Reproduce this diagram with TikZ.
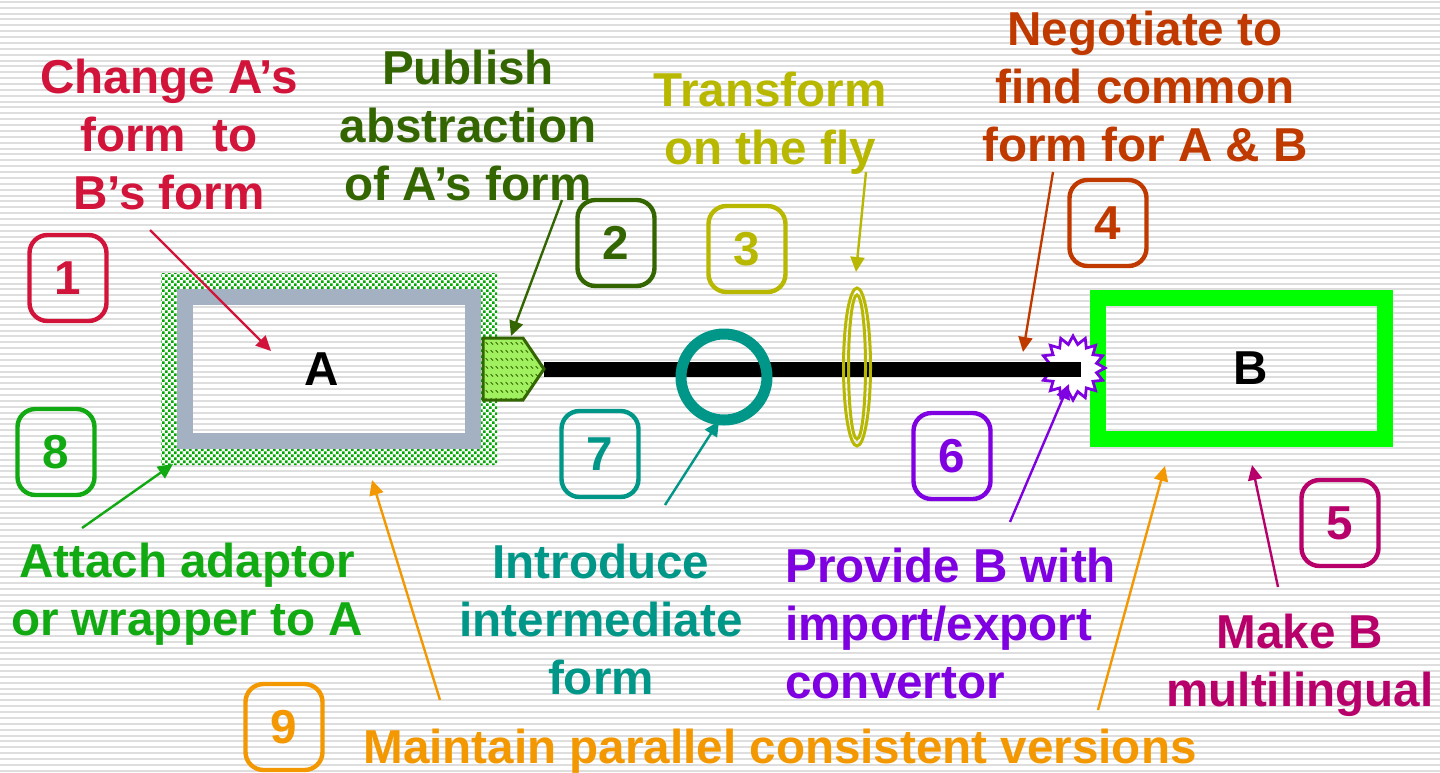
\documentclass[tikz,border=0pt]{standalone}
\usepackage{fontspec}
\setmainfont{Liberation Sans}
\usetikzlibrary{arrows.meta,shapes.geometric,patterns,calc}
\definecolor{cRed}{HTML}{D2143A}
\definecolor{cDkGreen}{HTML}{336600}
\definecolor{cOlive}{HTML}{B8B800}
\definecolor{cBrown}{HTML}{C03A00}
\definecolor{cMag}{HTML}{B8006B}
\definecolor{cPurple}{HTML}{7F00E0}
\definecolor{cTeal}{HTML}{009688}
\definecolor{cGreen}{HTML}{12AA12}
\definecolor{cOrange}{HTML}{F39800}
\definecolor{cGray}{HTML}{A3B1C2}
\definecolor{cLime}{HTML}{00FF00}
\definecolor{cAdapt}{HTML}{A0F060}
\definecolor{cStripe}{HTML}{DEDEDE}
\definecolor{cDots}{HTML}{00A800}
\pgfdeclarepatternformonly{gdots}{\pgfqpoint{-0.1pt}{-0.1pt}}{\pgfqpoint{3.1pt}{3.1pt}}{\pgfqpoint{3pt}{3pt}}{%
  \pgfpathrectangle{\pgfqpoint{0pt}{0pt}}{\pgfqpoint{1.3pt}{1.3pt}}%
  \pgfpathrectangle{\pgfqpoint{1.5pt}{1.5pt}}{\pgfqpoint{1.3pt}{1.3pt}}%
  \pgfusepath{fill}}
\pgfdeclarepatternformonly{adash}{\pgfqpoint{-0.5pt}{-0.5pt}}{\pgfqpoint{3pt}{4.5pt}}{\pgfqpoint{2.5pt}{4pt}}{%
  \pgfsetlinewidth{0.45pt}%
  \pgfpathmoveto{\pgfqpoint{0.3pt}{2.9pt}}\pgfpathlineto{\pgfqpoint{1.5pt}{1.7pt}}%
  \pgfusepath{stroke}}
\newcommand\lblfont{\fontsize{23.8}{29}\selectfont\bfseries}
\newcommand\mlc[1]{\begin{tabular}[t]{@{}c@{}}#1\end{tabular}}
\newcommand\mll[1]{\begin{tabular}[t]{@{}l@{}}#1\end{tabular}}
\begin{document}
\begin{tikzpicture}[x=0.5pt,y=-0.5pt,
  numbox/.style={draw, rounded corners=9pt, line width=2.2pt, minimum width=38.5pt, minimum height=43pt, inner sep=0pt, font=\lblfont},
  lbl/.style={inner sep=0pt, font=\lblfont, anchor=base},
  arr/.style={-{Triangle[length=7.5pt,width=7pt]}, line width=1.2pt},
  lensline/.style={ellipse, draw=cOlive, line width=1.5pt, inner sep=0pt}]
\useasboundingbox (0,0) rectangle (1440,772);
% background
\fill[white] (0,0) rectangle (1440,772);
\foreach \i in {0,...,131} \fill[cStripe] (0,{\i*5.87+0.8}) rectangle (1440,{\i*5.87+2.8});

% wrapper around A
\fill[white, even odd rule] (161,273) rectangle (497,465) (177,289) rectangle (481,449);
\fill[pattern=gdots, pattern color=cDots, even odd rule] (161,273) rectangle (497,465) (177,289) rectangle (481,449);
\coordinate (wrapc) at (173,464);
% box A and B
\node[draw=cGray, line width=8pt, minimum width=144pt, minimum height=72pt, inner sep=0pt, font=\lblfont] (A) at (329,369) {\hspace*{-7pt}A};
\node[draw=cLime, line width=8pt, minimum width=143.5pt, minimum height=70.5pt, inner sep=0pt, font=\lblfont] (B) at (1241.5,368.5) {\hspace*{9pt}B};

% starburst (convertor)
\coordinate (burst) at (1073,368);
\draw[cPurple, fill=white, line width=1.4pt, shift={(burst)}] plot[samples=32, domain=0:31, variable=\k] ({\k*11.25}:{28+4*cos(\k*180)}) -- cycle;
\coordinate (bend) at (1081,369);

% adaptor
\coordinate (adtip) at (544,369);
\coordinate (adtop) at (511,336);
\draw[line width=7.5pt] (adtip) -- (bend);
\fill[cAdapt] (483,338) -- (523,338) -- (adtip) -- (523,400) -- (483,400) -- cycle;
\fill[pattern=adash, pattern color=cDkGreen] (483,338) -- (523,338) -- (adtip) -- (523,400) -- (483,400) -- cycle;
\draw[cDkGreen, line width=1.5pt, line join=miter] (483,338) -- (523,338) -- (adtip) -- (523,400) -- (483,400) -- cycle;

% ring and lens
\node[circle, draw=cTeal, line width=5.5pt, minimum size=43pt, inner sep=0pt] (ring) at (724,377) {};
\node[lensline, minimum width=13.5pt, minimum height=79pt] (lens) at (857,367) {};
\node[lensline, minimum width=8.5pt, minimum height=72pt] (lensin) at (857,367) {};

% number boxes
\node[numbox, cRed] (n1) at (68,278) {1};
\node[numbox, cDkGreen] (n2) at (616,243) {2};
\node[numbox, cOlive] (n3) at (747,249) {3};
\node[numbox, cBrown] (n4) at (1108,223) {4};
\node[numbox, cMag] (n5) at (1340,523) {5};
\node[numbox, cPurple] (n6) at (952,456) {6};
\node[numbox, cTeal] (n7) at (600,454) {7};
\node[numbox, cGreen] (n8) at (56,452) {8};
\node[numbox, cOrange] (n9) at (284,727) {9};

% labels
\node[lbl, text=cRed] (L1) at (169,93) {\mlc{Change A’s\\form\ \ to\\B’s form}};
\node[lbl, text=cDkGreen] (L2) at (468,84) {\mlc{Publish\\abstraction\\of A’s form}};
\node[lbl, text=cOlive] (L3) at (770,106) {\mlc{Transform\\on the fly}};
\node[lbl, text=cBrown] (L4) at (1145,45) {\mlc{Negotiate to\\find common\\form for A \& B}};
\node[lbl, text=cMag] (L5) at (1300,648) {\mlc{Make B\\multilingual}};
\node[lbl, text=cPurple, anchor=base west] (L6) at (785,582) {\mll{Provide B with\\import/export\\convertor}};
\node[lbl, text=cTeal] (L7) at (601,578) {\mlc{Introduce\\intermediate\\form}};
\node[lbl, text=cGreen] (L8) at (187,577) {\mlc{Attach adaptor\\or wrapper to A}};
\node[lbl, text=cOrange] (L9) at (780,763) {Maintain parallel consistent versions};

% arrow end points
\coordinate (s1) at (150,230);  \coordinate (t1) at (271,351);
\coordinate (s2) at (562,200);
\coordinate (s3) at (866,172);  \coordinate (t3) at (856,272);
\coordinate (s4) at (1053,172); \coordinate (t4) at (1023,352);
\coordinate (s6) at (1010,522); \coordinate (t6) at (1069,384);
\coordinate (s7) at (665,505);  \coordinate (t7) at (719,421);
\coordinate (s8) at (82,528);
\coordinate (s9a) at (440,700); \coordinate (t9a) at (372,480);
\coordinate (s9b) at (1098,710); \coordinate (t9b) at (1165,466);
\coordinate (s5) at (1278,587); \coordinate (t5) at (1252,465);

\draw[arr, cRed] (s1) -- (t1);
\draw[arr, cDkGreen] (s2) -- (adtop);
\draw[arr, cOlive] (s3) -- (t3);
\draw[arr, cBrown] (s4) -- (t4);
\draw[arr, cPurple] (s6) -- (t6);
\draw[arr, cTeal] (s7) -- (t7);
\draw[arr, cGreen] (s8) -- (wrapc);
\draw[arr, cOrange] (s9a) -- (t9a);
\draw[arr, cOrange] (s9b) -- (t9b);
\draw[arr, cMag] (s5) -- (t5);
\end{tikzpicture}
\end{document}
